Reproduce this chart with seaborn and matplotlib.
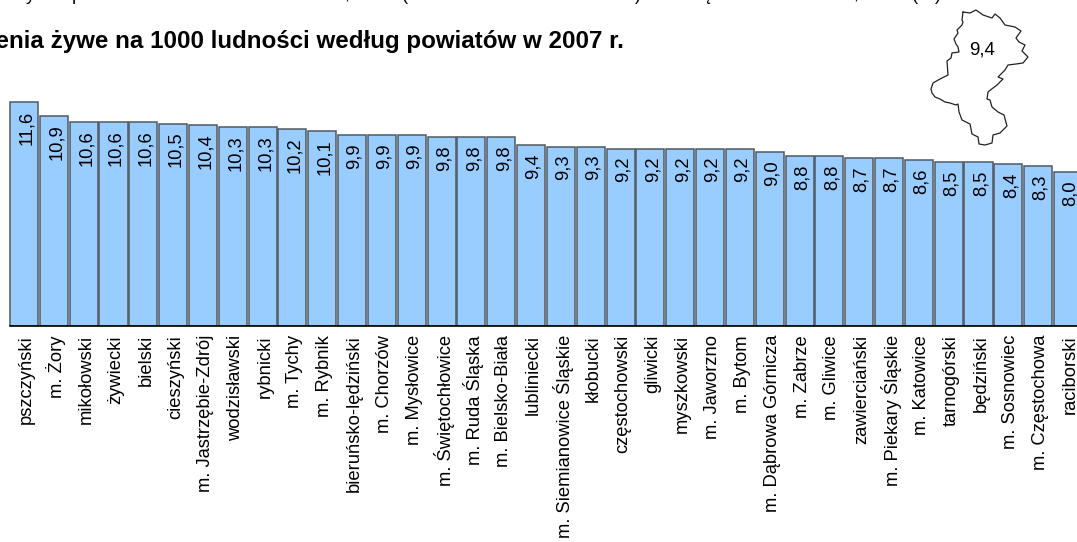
import matplotlib
matplotlib.use('Agg')
import matplotlib.pyplot as plt
from matplotlib.transforms import ScaledTranslation
import pandas as pd
import seaborn as sns

names = ['pszczyński', 'm. Żory', 'mikołowski', 'żywiecki', 'bielski', 'cieszyński',
         'm. Jastrzębie-Zdrój', 'wodzisławski', 'rybnicki', 'm. Tychy', 'm. Rybnik',
         'bieruńsko-lędziński', 'm. Chorzów', 'm. Mysłowice', 'm. Świętochłowice',
         'm. Ruda Śląska', 'm. Bielsko-Biała', 'lubliniecki', 'm. Siemianowice Śląskie',
         'kłobucki', 'częstochowski', 'gliwicki', 'myszkowski', 'm. Jaworzno', 'm. Bytom',
         'm. Dąbrowa Górnicza', 'm. Zabrze', 'm. Gliwice', 'zawierciański',
         'm. Piekary Śląskie', 'm. Katowice', 'tarnogórski', 'będziński', 'm. Sosnowiec',
         'm. Częstochowa', 'raciborski']
values = [11.6, 10.9, 10.6, 10.6, 10.6, 10.5, 10.4, 10.3, 10.3, 10.2, 10.1, 9.9, 9.9, 9.9,
          9.8, 9.8, 9.8, 9.4, 9.3, 9.3, 9.2, 9.2, 9.2, 9.2, 9.2, 9.0, 8.8, 8.8, 8.7, 8.7,
          8.6, 8.5, 8.5, 8.4, 8.3, 8.0]
title = 'Urodzenia żywe na 1000 ludności według powiatów w 2007 r.'
region_value = '9,4'

# pixel trace of the region outline (voivodeship map)
map_x = [963, 962, 963, 962, 957, 958, 954, 956, 958, 959, 952, 951, 947, 948, 940, 933, 931,
         932, 935, 940, 945, 950, 956, 958, 959, 962, 966, 970, 972, 978, 979, 985, 992, 993,
         1000, 1007, 1004, 998, 992, 990, 987, 988, 993, 997, 1003, 998, 1005, 1008, 1016,
         1023, 1028, 1022, 1025, 1019, 1016, 1021, 1015, 1010, 1005, 1000, 995, 992, 983, 976,
         970, 963]
map_y = [12, 20, 22, 25, 30, 33, 39, 44, 47, 52, 53, 58, 61, 75, 79, 83, 89, 93, 97, 99, 102,
         103, 105, 104, 112, 120, 122, 124, 134, 137, 144, 145, 143, 135, 133, 126, 115, 112,
         107, 100, 99, 92, 88, 85, 79, 77, 70, 65, 64, 63, 57, 51, 45, 42, 38, 31, 27, 26, 25,
         18, 14, 18, 15, 10, 13, 12]

# bottoms of the line of text cut off by the top edge
cut_text = ['y', 'p', ',', '(', ')', 'ę', ',', '(', ')']
cut_x = [30, 77, 347, 405, 638, 707, 856, 915, 938]

df = pd.DataFrame({'powiat': names, 'value': values})

sns.set_style('white')
plt.rcParams['font.family'] = ['Liberation Sans', 'DejaVu Sans']

W, H = 1077, 542
fig = plt.figure(figsize=(W / 100, H / 100), dpi=100)

# axes run edge to edge, baseline at 326 px
scale = (326 - 102.3) / 11.6
ax = fig.add_axes([0, (H - 326) / H, 1, 236 / H])
sns.barplot(data=df, x='powiat', y='value', color='#99CCFF', saturation=1, width=0.94,
            edgecolor='#505860', linewidth=1.1, ax=ax)
pitch = (1068 - 24) / 35
ax.set_xlim(-24 / pitch, (W - 24) / pitch)
ax.set_ylim(0, 236 / scale)
ax.set_xlabel('')
ax.set_ylabel('')
ax.set_yticks([])
ax.tick_params(axis='x', length=0, pad=6.5, labelsize=13.2, labelrotation=90, labelcolor='black')
sns.despine(ax=ax, left=True)
ax.spines['bottom'].set_color('black')
ax.spines['bottom'].set_linewidth(1.2)
ax.spines['bottom'].set_bounds(-0.47, (W - 24) / pitch)

# labels sit a little right of the bar centres
nudge = ScaledTranslation(2.5 / 100, 0, fig.dpi_scale_trans)
for lab in ax.get_xticklabels():
    lab.set_transform(lab.get_transform() + nudge)

for i, v in enumerate(values):
    ax.annotate(f'{v:.1f}'.replace('.', ','), (i, v), xytext=(1.8, -6), textcoords='offset points',
                rotation=90, ha='center', va='top', fontsize=13.2, color='black')

# overlay in pixels for title, map and clipped text
over = fig.add_axes([0, 0, 1, 1])
over.set_xlim(0, W)
over.set_ylim(H, 0)
over.axis('off')
over.patch.set_alpha(0)
over.text(624, 48, title, ha='right', va='baseline', fontsize=17.35, fontweight='bold', color='black')
over.plot(map_x, map_y, color='#222222', lw=0.9)
over.text(982, 50, region_value, ha='center', va='center', fontsize=13.5, color='black')
for s, x in zip(cut_text, cut_x):
    over.text(x, -0.5, s, ha='center', va='baseline', fontsize=13, color='black')

fig.savefig('out.png', dpi=100)
